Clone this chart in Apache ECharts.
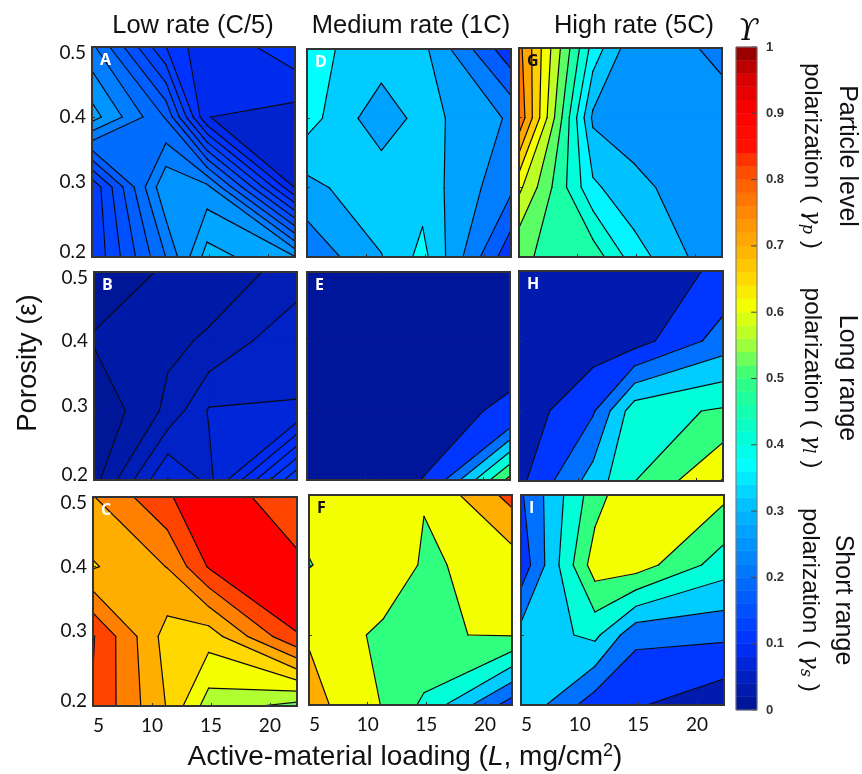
<!DOCTYPE html>
<html><head><meta charset="utf-8">
<style>html,body{margin:0;padding:0;background:#fff}#c{width:862px;height:774px}</style>
<script src="https://cdn.jsdelivr.net/npm/echarts@6/dist/echarts.min.js"></script>
</head><body><div id="c"></div>
<script>
const loadings = [5, 11.3, 14.8, 22.3];
const porosities = [0.5, 0.4, 0.3, 0.2];
const colTitles = ['Low rate (C/5)', 'Medium rate (1C)', 'High rate (5C)'];

const gridA = [[.25625,.1255,.0775,.1175],[.31125,.2225,.0755,.0635],[.13,.29675,.28325,.0725],[.1275,.2505,.33625,.3015]];
const levelsA = [.075,.1,.125,.15,.175,.2,.225,.25,.275,.3,.325];
const tonesA = [.06,.085,.105,.12,.135,.15,.17,.195,.22,.25,.275,.305];

const gridB = [[.0125,.02165,.0275,.04],[.0213,.0319,.037,.0635],[.006,.0388,.0665,.0653],[.0143,.0808,.0605,.1535]];
const levelsB = [.02,.035,.05,.065,.08,.095,.11,.125,.14];
const tonesB = [.008,.025,.04,.055,.07,.085,.095,.105,.115,.125];

const gridC = [[.7475,.843,.8925,.806],[.695,.7515,.854,.865],[.8535,.6785,.6725,.849],[.8465,.6965,.575,.5325]];
const levelsC = [.55,.6,.65,.7,.75,.8,.85];
const tonesC = [.52,.56,.61,.65,.7,.76,.82,.9];

const gridD = [[.3515,.3215,.3035,.103],[.3615,.2575,.31,.2325],[.274,.3275,.319,.2],[.202,.2875,.3565,.1015]];
const levelsD = [.14,.19,.24,.29,.34];
const tonesD = [.11,.17,.22,.27,.32,.37];

const gridE = [[.005,.005,.005,.005],[.005,.005,.005,.005],[.002,.002,.01,.06],[.002,.002,.046,.633]];
const levelsE = [.045,.2,.3,.4,.5,.6];
const tonesE = [.01,.11,.2,.32,.41,.5,.72];

const gridF = [[.64,.63,.607,.835],[.595,.69,.584,.645],[.69,.574,.594,.606],[.74,.595,.48,.15]];
const levelsF = [.2,.3,.4,.5,.6,.7,.8];
const tonesF = [.12,.2,.32,.41,.5,.61,.7,.82];

const gridG = [[.7665,.38,.2625,.2455],[.79,.29,.275,.257],[.612,.36,.313,.26],[.505,.48,.3735,.2545]];
const levelsG = [.25,.3,.35,.4,.45,.5,.55,.6,.65,.7,.75];
const tonesG = [.22,.25,.31,.36,.41,.46,.52,.57,.61,.66,.71,.77];

const gridH = [[.01,.015,.031,.122],[.02,.046,.056,.244],[.037,.19,.46,.513],[.072,.345,.498,.706]];
const levelsH = [.1,.2,.3,.4,.5,.6,.7];
const tonesH = [.03,.11,.2,.32,.41,.5,.61,.7];

const gridI = [[.188,.555,.7,.623],[.133,.653,.652,.448],[.337,.425,.224,.22],[.38,.145,.11,.028]];
const levelsI = [.1,.2,.3,.4,.5,.6];
const tonesI = [.03,.11,.2,.32,.41,.5,.61];

const colormapStops = [[0,'#001490'],[.05,'#0020c0'],[.1,'#0030ff'],[.2,'#0070ff'],[.3,'#00b8ff'],[.37,'#00ffff'],[.41,'#00ffd8'],[.5,'#30ff80'],[.56,'#b0ff30'],[.61,'#f4ff00'],[.65,'#ffd800'],[.7,'#ffae00'],[.76,'#ff8000'],[.82,'#ff4400'],[.85,'#ff1000'],[.9,'#ff0000'],[.95,'#d80000'],[1,'#8c0000']];
const colorbarTickValues = [0,.1,.2,.3,.4,.5,.6,.7,.8,.9,1];
const colorbarSteps = 50;

const panels = [
 {n:'A',g:gridA,l:levelsA,t:tonesA,col:0,rect:[92,47,203,210],lab:'#fff'},
 {n:'B',g:gridB,l:levelsB,t:tonesB,col:0,rect:[94,272,203,208],lab:'#fff'},
 {n:'C',g:gridC,l:levelsC,t:tonesC,col:0,rect:[93,497,204,209],lab:'#fff',x:true},
 {n:'D',g:gridD,l:levelsD,t:tonesD,col:1,rect:[307,49,204,208],lab:'#fff'},
 {n:'E',g:gridE,l:levelsE,t:tonesE,col:1,rect:[307,272,203,208],lab:'#fff'},
 {n:'F',g:gridF,l:levelsF,t:tonesF,col:1,rect:[309,495,203,210],lab:'#111',x:true},
 {n:'G',g:gridG,l:levelsG,t:tonesG,col:2,rect:[519,48,203,209],lab:'#111'},
 {n:'H',g:gridH,l:levelsH,t:tonesH,col:2,rect:[519,271,204,210],lab:'#fff'},
 {n:'I',g:gridI,l:levelsI,t:tonesI,col:2,rect:[521,495,203,210],lab:'#fff',x:true}
];

function hex(h){return [parseInt(h.slice(1,3),16),parseInt(h.slice(3,5),16),parseInt(h.slice(5,7),16)];}
function cmap(v){
  for(let i=1;i<colormapStops.length;i++){
    if(v<=colormapStops[i][0]){
      const a=colormapStops[i-1],b=colormapStops[i],f=(v-a[0])/(b[0]-a[0]);
      const A=hex(a[1]),B=hex(b[1]);
      return 'rgb('+A.map((x,k)=>Math.round(x+(B[k]-x)*f)).join(',')+')';
    }
  }
  return colormapStops[colormapStops.length-1][1];
}
function cross(a,b,t){
  const f=(t-a.v)/(b.v-a.v);
  return [a.x+(b.x-a.x)*f,a.y+(b.y-a.y)*f];
}
function crossings(c,t){
  const out=[];
  for(let i=0;i<4;i++){
    const a=c[i],b=c[(i+1)%4];
    if((a.v-t)*(b.v-t)<0) out.push(cross(a,b,t));
  }
  return out;
}
// parts of a cell at or above level t; a saddle is resolved from the mean of the four corners
function regionsAbove(c,t){
  const mean=(c[0].v+c[1].v+c[2].v+c[3].v)/4;
  const hi=c.map(q=>q.v>=t);
  const saddle=hi[0]===hi[2]&&hi[1]===hi[3]&&hi[0]!==hi[1];
  if(saddle&&mean<t){
    const polys=[];
    for(let i=0;i<4;i++){
      if(hi[i]){
        const p=c[(i+3)%4],n=c[(i+1)%4];
        polys.push([[c[i].x,c[i].y],cross(c[i],n,t),cross(p,c[i],t)]);
      }
    }
    return polys;
  }
  const poly=[];
  for(let i=0;i<4;i++){
    const a=c[i],b=c[(i+1)%4],ib=b.v>=t;
    if(hi[i]) poly.push([a.x,a.y]);
    if(hi[i]!==ib) poly.push(cross(a,b,t));
  }
  return poly.length>=3?[poly]:[];
}
function cellCorners(p,r,c,api){
  const idx=[[r,c],[r,c+1],[r+1,c+1],[r+1,c]];
  return idx.map(([i,j])=>{
    const q=api.coord([loadings[j],porosities[i]]);
    return {x:q[0],y:q[1],v:p.g[i][j]};
  });
}
const series=[],grids=[],xAxes=[],yAxes=[],graphics=[];
const tickFont='Lato';
panels.forEach((p,pi)=>{
  const [x,y,w,h]=p.rect;
  grids.push({left:x,top:y,width:w,height:h,containLabel:false});
  xAxes.push({type:'value',gridIndex:pi,min:loadings[0],max:loadings[3],interval:5,z:10,
    axisLine:{show:false},splitLine:{show:false},
    axisTick:{show:true,inside:true,length:3,lineStyle:{color:'#333'}},
    axisLabel:{show:!!p.x,showMaxLabel:false,alignMinLabel:'left',fontFamily:tickFont,fontSize:19,color:'#111',margin:10}});
  yAxes.push({type:'value',gridIndex:pi,min:porosities[3],max:porosities[0],interval:.1,z:10,
    axisLine:{show:false},splitLine:{show:false},
    axisTick:{show:true,inside:true,length:3,lineStyle:{color:'#333'}},
    axisLabel:{show:p.col===0,verticalAlignMinLabel:'bottom',verticalAlignMaxLabel:'top',lineHeight:11,fontFamily:tickFont,fontSize:19,color:'#111',margin:6,
      formatter:v=>Math.abs(v-.3)<1e-6?'{up|'+v.toFixed(1)+'}':v.toFixed(1),
      rich:{up:{fontFamily:tickFont,fontSize:19,color:'#111',padding:[0,0,10,0]}}}});
  const pts=[];
  p.g.forEach((row,r)=>row.forEach((v,c)=>pts.push([loadings[c],porosities[r],v])));
  const n=loadings.length;
  const cells=[];
  for(let r=0;r<p.g.length-1;r++) for(let c=0;c<n-1;c++) cells.push([r,c]);
  const common={type:'custom',coordinateSystem:'cartesian2d',xAxisIndex:pi,yAxisIndex:pi,silent:true,animation:false,encode:{x:0,y:1}};
  // filled bands, painted level by level from the lowest up
  const bandData=[[loadings[0],porosities[0],-Infinity]].concat(p.l.map(t=>[loadings[0],porosities[0],t]));
  series.push(Object.assign({},common,{z:2,clip:true,data:bandData,renderItem(params,api){
    const b=params.dataIndex,col=cmap(p.t[b]),children=[];
    cells.forEach(([r,c])=>{
      const corners=cellCorners(p,r,c,api);
      const polys=b===0?[corners.map(q=>[q.x,q.y])]:regionsAbove(corners,p.l[b-1]);
      polys.forEach(poly=>children.push({type:'polygon',shape:{points:poly},style:{fill:col,stroke:col,lineWidth:1}}));
    });
    return {type:'group',children};
  }}));
  series.push(Object.assign({},common,{z:3,clip:true,data:pts,renderItem(params,api){
    const r=Math.floor(params.dataIndex/n),c=params.dataIndex%n;
    if(r>=p.g.length-1||c>=n-1) return null;
    const corners=cellCorners(p,r,c,api),children=[];
    p.l.forEach(t=>{
      const cr=crossings(corners,t);
      let pairs=[];
      if(cr.length===2) pairs=[[0,1]];
      else if(cr.length===4){
        const mean=(corners[0].v+corners[1].v+corners[2].v+corners[3].v)/4;
        const zeroIsolated=(corners[0].v>=t)===(mean<t);
        pairs=zeroIsolated?[[1,2],[3,0]]:[[0,1],[2,3]];
      }
      pairs.forEach(([a,b])=>children.push({type:'polyline',shape:{points:[cr[a],cr[b]]},style:{fill:'none',stroke:'#0a0a14',lineWidth:1.2,lineCap:'round'}}));
    });
    return {type:'group',children};
  }}));
  series.push(Object.assign({},common,{z:4,clip:false,data:[pts[0]],renderItem(params){
    const s=params.coordSys;
    return {type:'rect',shape:{x:s.x,y:s.y,width:s.width,height:s.height},style:{fill:'none',stroke:'#333',lineWidth:2}};
  }}));
  graphics.push({type:'text',z:20,x:x+8,y:y+5,style:{text:p.n,fontFamily:'Open Sans',fontWeight:'bold',fontSize:16,fill:p.lab}});
});

// colour bar
const cb=panels.length;
grids.push({left:736,top:47,width:21,height:663});
xAxes.push({type:'value',gridIndex:cb,min:0,max:1,show:false});
yAxes.push({type:'value',gridIndex:cb,position:'right',min:0,max:1,interval:.1,z:10,
  axisLine:{show:false},splitLine:{show:false},axisTick:{show:false},
  axisLabel:{fontFamily:'Liberation Sans',fontWeight:'bold',fontSize:13,color:'#333',margin:9}});
const cbData=[];
for(let i=0;i<colorbarSteps;i++) cbData.push([0,i/colorbarSteps,(i+1)/colorbarSteps]);
series.push({type:'custom',coordinateSystem:'cartesian2d',xAxisIndex:cb,yAxisIndex:cb,silent:true,animation:false,z:2,encode:{x:0,y:1},data:cbData,
  renderItem(params,api){
    const a=api.coord([0,api.value(1)]),b=api.coord([1,api.value(2)]);
    const col=cmap((api.value(1)+api.value(2))/2);
    return {type:'rect',shape:{x:a[0],y:b[1],width:b[0]-a[0],height:a[1]-b[1]},style:{fill:col,stroke:col,lineWidth:.5}};
  }});
series.push({type:'custom',coordinateSystem:'cartesian2d',xAxisIndex:cb,yAxisIndex:cb,silent:true,animation:false,z:3,clip:false,encode:{x:0,y:1},data:colorbarTickValues.map(v=>[1,v]),
  renderItem(params,api){
    const a=api.coord([1,api.value(1)]),b=api.coord([.72,api.value(1)]);
    return {type:'line',shape:{x1:a[0],y1:a[1],x2:b[0],y2:b[1]},style:{stroke:'#444',lineWidth:1}};
  }});
series.push({type:'custom',coordinateSystem:'cartesian2d',xAxisIndex:cb,yAxisIndex:cb,silent:true,animation:false,z:4,clip:false,encode:{x:0,y:1},data:[[0,0,1]],
  renderItem(params){
    const s=params.coordSys;
    return {type:'rect',shape:{x:s.x,y:s.y,width:s.width,height:s.height},style:{fill:'none',stroke:'#777',lineWidth:1}};
  }});

const sans='Liberation Sans';
function txt(text,x,y,size,rot,extra){
  return {type:'text',z:20,x,y,rotation:rot||0,style:Object.assign({text,x:0,y:0,align:'center',verticalAlign:'middle',fontFamily:sans,fontSize:size,fill:'#111'},extra||{})};
}
const gamRich={g:{fontFamily:'DejaVu Serif',fontStyle:'italic',fontSize:23,fill:'#111'},s:{fontFamily:'DejaVu Serif',fontStyle:'italic',fontSize:16,fill:'#111',padding:[9,0,0,0]}};
colTitles.forEach((t,i)=>graphics.push(txt(t,[193,411,634][i],26,25.5)));
graphics.push(txt('ϒ',748,32,30,0,{fontFamily:'DejaVu Serif',fontStyle:'italic'}));
graphics.push(txt('Porosity (ε)',28,363,27.5,Math.PI/2));
graphics.push(txt('Active-material loading ({i|L}, mg/cm{u|2})',405,757,28,0,{rich:{i:{fontStyle:'italic',fontFamily:sans,fontSize:28,fill:'#111'},u:{fontFamily:sans,fontSize:18,fill:'#111',padding:[0,0,11,0]}}}));
[['Particle level','p',847,812,156],['Long range','l',847,812,378],['Short range','s',843,810,600]].forEach(a=>{
  graphics.push(txt(a[0],a[2],a[4],25,-Math.PI/2));
  graphics.push(txt('polarization ( {g|γ}{s|'+a[1]+'} )',a[3],a[4],24.5,-Math.PI/2,{rich:gamRich}));
});

const chart=echarts.init(document.getElementById('c'),null,{renderer:'canvas'});
chart.setOption({animation:false,backgroundColor:'#fff',grid:grids,xAxis:xAxes,yAxis:yAxes,series,graphic:graphics});
</script></body></html>
